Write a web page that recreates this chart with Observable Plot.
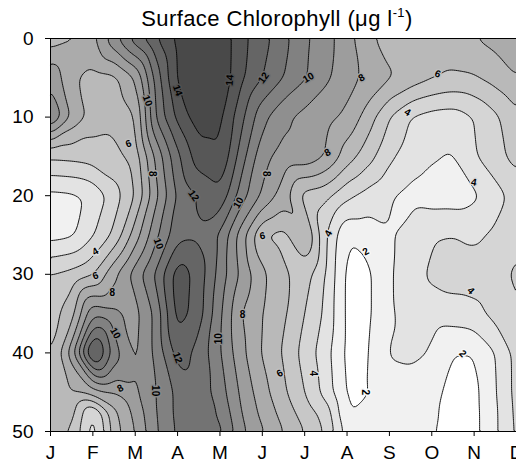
<!DOCTYPE html>
<html><head><meta charset="utf-8">
<script src="https://cdn.jsdelivr.net/npm/d3@7"></script>
<script src="https://cdn.jsdelivr.net/npm/@observablehq/plot@0.6"></script>
<style>
body{margin:0;background:#fff;font-family:"Liberation Sans",Arial,sans-serif;}
#wrap{position:relative;width:516px;height:464px;overflow:hidden;}
#title{position:absolute;left:0;width:554px;top:6px;text-align:center;font-size:22px;letter-spacing:0.4px;line-height:26px;color:#000;white-space:nowrap;}
#title sup{font-size:13px;line-height:0;vertical-align:9px;}
</style></head><body>
<div id="wrap"><div id="chart"></div><div id="title">Surface Chlorophyll (μg l<sup>-1</sup>)</div></div>
<script>
const monthLabels = ["J","F","M","A","M","J","J","A","S","O","N","D"];
const gridMonths = [1,1.5,2,2.5,3,3.5,4,4.5,5,5.5,6,6.5,7,7.5,8,8.5,9,9.5,10,10.5,11,11.5,12];
const gridDepths = [0,5,10,15,20,25,30,35,40,45,47.5,50];
const d0  = [6.4,6.9,7.7,9.7,11.6,13.0,14.3,14.9,14.8,13.3,12.4,11.3,10.2,9.4,8.4,7.2,6.6,6.5,6.6,6.8,7.0,7.3,7.7];
const d5  = [8.8,7.2,6.6,6.7,8.0,11.5,14.2,14.9,14.8,13.2,12.0,11.0,10.1,9.2,8.4,7.7,7.1,6.6,6.1,5.8,5.9,6.4,7.0];
const d10 = [10.3,7.8,6.6,6.3,6.9,11.2,13.3,14.6,14.3,12.3,10.3,9.2,8.7,8.3,7.8,6.5,5.0,3.95,3.6,3.5,4.0,4.8,5.8];
const d15 = [5.2,5.3,5.5,5.7,6.4,9.3,11.8,13.6,14.0,11.5,9.3,8.6,8.7,8.0,6.5,5.4,4.2,3.5,3.1,2.9,3.9,4.6,5.4];
const d20 = [2.7,2.8,3.2,4.5,6.0,8.8,11.2,12.1,12.8,10.5,8.8,7.5,5.6,5.3,4.2,3.6,3.1,2.7,2.5,2.5,2.8,3.6,4.4];
const d25 = [2.6,2.8,3.9,5.2,7.5,9.8,11.7,11.8,10.9,8.5,6.0,5.6,7.2,4.1,2.05,2.3,2.9,3.3,3.9,4.0,3.8,4.2,4.8];
const d30 = [5.0,5.3,5.9,7.8,9.5,11.2,13.6,12.6,10.6,8.8,7.2,6.2,5.5,4.0,1.7,1.8,2.9,3.5,4.2,4.5,4.5,4.6,5.2];
const d35 = [5.6,6.5,9.9,9.3,8.6,10.3,13.5,12.5,10.2,8.0,7.0,6.2,5.0,3.8,1.7,1.8,2.9,3.3,3.4,3.5,3.7,4.3,5.0];
const d40 = [5.8,8.5,13.8,10.5,8.7,10.3,12.5,11.7,10.1,8.3,6.9,5.9,4.6,3.4,1.7,1.9,3.1,3.2,2.95,2.0,2.0,3.0,4.4];
const d45 = [6.5,7.0,7.6,8.0,8.8,10.0,11.3,11.6,10.5,8.8,7.4,6.2,5.0,3.6,1.8,1.95,2.5,2.6,2.4,1.6,1.7,2.9,4.4];
const d47 = [6.2,6.5,3.7,6.8,8.3,10.0,11.3,11.6,10.9,9.0,7.7,6.6,5.5,4.6,1.95,2.2,2.4,2.4,2.2,1.6,1.7,2.8,4.35];
const d50 = [6.0,6.0,3.3,6.5,8.0,9.9,11.2,11.5,11.3,9.3,8.1,7.0,6.0,4.9,2.5,2.4,2.3,2.2,2.1,1.6,1.7,2.8,4.3];
const rows = [d0,d5,d10,d15,d20,d25,d30,d35,d40,d45,d47,d50];

const labelMonth = [4.0,5.23,6.03,7.09,8.34,10.14,9.43,10.99,3.29,2.84,3.41,4.38,5.44,6.08,7.54,6.0,7.56,2.06,2.06,2.46,2.53,4.0,3.48,3.55,2.65,5.53,4.97,6.41,7.21,8.44,8.44,10.92,10.73];
const labelDepth = [6.6,5.3,5.0,5.0,5.0,4.5,9.4,18.3,7.9,13.4,17.2,20.0,20.9,17.2,14.5,25.1,24.8,27.1,30.2,32.4,37.5,40.6,44.8,26.1,44.5,35.1,38.2,42.6,42.6,27.1,45.0,32.1,40.1];
const labelValue = [14,14,12,10,8,6,4,4,10,6,8,12,10,8,8,6,4,4,6,8,10,12,10,10,8,8,10,6,4,2,2,4,2];
const labelAngle = [70,-85,-55,-30,-30,20,30,10,70,-20,90,55,-60,90,-30,-10,-60,-30,-20,0,60,70,90,70,-30,0,-90,-30,90,-30,90,45,45];

const data = [];
rows.forEach((r,i) => r.forEach((v,j) => data.push({m: gridMonths[j], d: gridDepths[i], v})));
const labels = labelValue.map((v,i) => ({m: labelMonth[i], d: labelDepth[i], v, a: labelAngle[i]}));
const levels = d3.range(1, 16);

const chart = Plot.plot({
  width: 516, height: 464,
  marginLeft: 50, marginRight: 0, marginTop: 38, marginBottom: 33,
  style: {fontFamily: "Liberation Sans, Arial, sans-serif", fontSize: "19px", color: "black", background: "white", overflow: "visible"},
  x: {domain: [1, 12], ticks: d3.range(1, 13), tickFormat: i => monthLabels[i - 1], tickSize: 5, tickPadding: 9, label: null},
  y: {domain: [0, 50], reverse: true, ticks: [0,10,20,30,40,50], tickSize: 5, tickPadding: 12, label: null},
  color: {type: "linear", domain: [1, 15], range: ["#ffffff", "#3b3b3b"], interpolate: "rgb"},
  marks: [
    Plot.contour(data, {x: "m", y: "d", fill: "v", thresholds: levels, interpolate: "barycentric", blur: 2, stroke: "none"}),
    Plot.contour(data, {x: "m", y: "d", value: "v", thresholds: levels, interpolate: "barycentric", blur: 2, fill: "none", stroke: "black", strokeWidth: 0.9}),
    Plot.text(labels, {x: "m", y: "d", text: d => String(d.v), rotate: "a", fill: "black", stroke: d => d.v - 0.5, strokeWidth: 3, fontWeight: "bold", fontSize: 10}),
    Plot.frame({stroke: "black"})
  ]
});
document.getElementById("chart").append(chart);
</script></body></html>
